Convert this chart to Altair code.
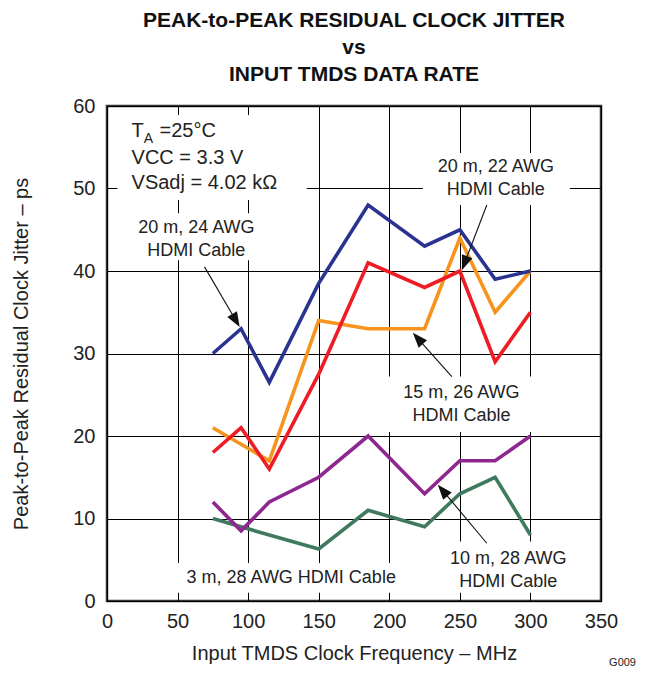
import math
import altair as alt
import pandas as pd

# ---------------- data ----------------
freq = [75, 95, 115, 150, 185, 225, 250, 275, 300]
jit_20m_24awg = [30, 33, 26.5, 38.5, 48, 43, 45, 39, 40]
jit_20m_22awg = [21, 19, 17, 34, 33, 33, 44, 35, 40]
jit_15m_26awg = [18, 21, 16, 27.5, 41, 38, 40, 29, 35]
jit_10m_28awg = [12, 8.5, 12, 15, 20, 13, 17, 17, 20]
jit_3m_28awg = [10, 9, 8, 6.3, 11, 9, 13, 15, 8]

series_names = ["3m28", "10m28", "22awg", "15m26", "24awg"]
series_vals = [jit_3m_28awg, jit_10m_28awg, jit_20m_22awg, jit_15m_26awg, jit_20m_24awg]
series_colors = ["#3f7a5e", "#8e278f", "#f7941d", "#ee1c25", "#2b3391"]

x_ticks = [0, 50, 100, 150, 200, 250, 300, 350]
y_ticks = [0, 10, 20, 30, 40, 50, 60]

# annotation texts (data coordinates)
cond_text = ["T", "A", "=25°C", "VCC = 3.3 V", "VSadj = 4.02 kΩ"]
cond_x = [17.4, 26.0, 37.2, 17.4, 17.4]
cond_y = [56.3, 55.5, 56.3, 53.0, 49.9]
cond_size = [20, 14, 20, 20, 20]

label_text = ["20 m, 24 AWG", "HDMI Cable", "20 m, 22 AWG", "HDMI Cable",
              "15 m, 26 AWG", "HDMI Cable", "10 m, 28 AWG", "HDMI Cable",
              "3 m, 28 AWG HDMI Cable"]
label_x = [63.3, 63.3, 275.5, 275.5, 251.1, 251.1, 284.3, 284.3, 130.5]
label_y = [44.6, 41.8, 52.0, 49.2, 24.6, 21.8, 4.5, 1.7, 2.2]

# white boxes behind texts (break the grid)
box_x1 = [7.4, 19.5, 223.8, 196.8, 239.4, 44.3]
box_x2 = [141.5, 109.6, 328.0, 303.2, 331.6, 211.0]
box_y1 = [48.6, 41.3, 48.0, 20.5, 1.0, 1.0]
box_y2 = [58.9, 47.0, 54.3, 27.2, 7.2, 4.6]

# arrows
arr_tail_x = [69.1, 269.1, 244.3, 269.1]
arr_tail_y = [40.5, 48.0, 27.2, 7.0]
arr_tip_x = [94.0, 251.4, 216.7, 234.4]
arr_tip_y = [33.2, 40.1, 32.5, 14.1]

W, H = 494, 495
XMAX, YMAX = 350, 60
sx, sy = W / XMAX, H / YMAX
FONT = "Liberation Sans"

# ---------------- tables ----------------
rows = []
for name, vals in zip(series_names, series_vals):
    for f, v in zip(freq, vals):
        rows.append({"series": name, "freq": f, "jitter": v})
lines_df = pd.DataFrame(rows)

cond_df = pd.DataFrame({"t": cond_text, "x": cond_x, "y": cond_y, "s": cond_size})
lab_df = pd.DataFrame({"t": label_text, "x": label_x, "y": label_y})
box_df = pd.DataFrame({"x1": box_x1, "x2": box_x2, "y1": box_y1, "y2": box_y2})

HEAD = 15.0
shaft_rows, head_rows = [], []
for tx, ty, hx, hy in zip(arr_tail_x, arr_tail_y, arr_tip_x, arr_tip_y):
    dx = (hx - tx) * sx
    dy = -(hy - ty) * sy
    L = math.hypot(dx, dy)
    ux, uy = dx / L, dy / L
    ang = math.degrees(math.atan2(dx, -dy)) % 360
    cx = hx - ux * HEAD / 2 / sx
    cy = hy + uy * HEAD / 2 / sy
    shaft_rows.append({"x": tx, "y": ty, "x2": hx - ux * HEAD * 0.6 / sx, "y2": hy + uy * HEAD * 0.6 / sy})
    head_rows.append({"x": cx, "y": cy, "a": ang})
shaft_df = pd.DataFrame(shaft_rows)
head_df = pd.DataFrame(head_rows)

xs = alt.Scale(domain=[0, XMAX], nice=False, zero=False)
ys = alt.Scale(domain=[0, YMAX], nice=False, zero=False)

xax = alt.Axis(values=x_ticks, title="Input TMDS Clock Frequency – MHz", grid=True,
               ticks=False, domain=False, labelPadding=10, titlePadding=12, labelFlush=False,
               labelFontSize=20, titleFontSize=20, labelFont=FONT, titleFont=FONT,
               titleFontWeight="normal", labelColor="#222", titleColor="#222",
               gridColor="#000", gridWidth=1, gridOpacity=1)
yax = alt.Axis(values=y_ticks, title="Peak-to-Peak Residual Clock Jitter – ps", grid=True,
               ticks=False, domain=False, labelPadding=12, titlePadding=41, labelFlush=False,
               labelFontSize=20, titleFontSize=20, labelFont=FONT, titleFont=FONT,
               titleFontWeight="normal", labelColor="#222", titleColor="#222",
               gridColor="#000", gridWidth=1, gridOpacity=1)

base_lines = alt.Chart(lines_df).mark_line(strokeWidth=3.6, strokeJoin="miter").encode(
    x=alt.X("freq:Q", scale=xs, axis=xax),
    y=alt.Y("jitter:Q", scale=ys, axis=yax),
    color=alt.Color("series:N", scale=alt.Scale(domain=series_names, range=series_colors), legend=None),
    order=alt.Order("freq:Q"),
    detail="series:N",
)

boxes = alt.Chart(box_df).mark_rect(color="white").encode(
    x=alt.X("x1:Q", scale=xs), x2="x2:Q",
    y=alt.Y("y1:Q", scale=ys), y2="y2:Q",
)

cond = alt.Chart(cond_df).mark_text(align="left", baseline="alphabetic", font=FONT, color="#222").encode(
    x=alt.X("x:Q", scale=xs), y=alt.Y("y:Q", scale=ys), text="t:N",
    size=alt.Size("s:Q", scale=None, legend=None),
)

labs = alt.Chart(lab_df).mark_text(align="center", baseline="alphabetic", font=FONT,
                                   fontSize=18, color="#222").encode(
    x=alt.X("x:Q", scale=xs), y=alt.Y("y:Q", scale=ys), text="t:N",
)

shafts = alt.Chart(shaft_df).mark_rule(color="#111", strokeWidth=1.1).encode(
    x=alt.X("x:Q", scale=xs), y=alt.Y("y:Q", scale=ys), x2="x2:Q", y2="y2:Q",
)

heads = alt.Chart(head_df).mark_point(
    shape="M0,-1L0.75,1L-0.75,1Z", filled=True, color="#111", opacity=1, size=HEAD * HEAD
).encode(
    x=alt.X("x:Q", scale=xs), y=alt.Y("y:Q", scale=ys),
    angle=alt.Angle("a:Q", scale=None),
)

g009 = alt.Chart(pd.DataFrame({"t": ["G009"]})).mark_text(
    align="right", baseline="alphabetic", font=FONT, fontSize=11, color="#222"
).encode(x=alt.value(529), y=alt.value(560), text="t:N")

chart = alt.layer(boxes, base_lines, shafts, heads, cond, labs, g009).properties(
    width=W, height=H,
    title=alt.Title(["PEAK-to-PEAK RESIDUAL CLOCK JITTER", "vs", "INPUT TMDS DATA RATE"],
                    font=FONT, fontSize=21, fontWeight="bold", color="#111",
                    lineHeight=27, anchor="middle", offset=11),
    autosize=alt.AutoSizeParams(type="none"),
    padding={"left": 99, "top": 98, "right": 36, "bottom": 68},
).configure_view(stroke="#333", strokeWidth=2.5)

chart.save("out.html", embed_options={"renderer": "svg", "actions": False})
